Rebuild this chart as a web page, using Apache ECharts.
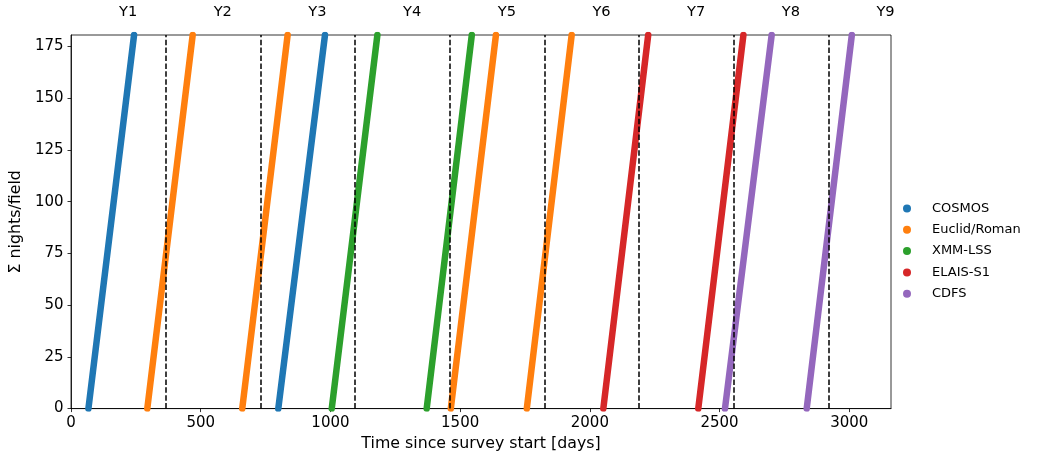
<!DOCTYPE html>
<html><head><meta charset="utf-8">
<script src="https://cdn.jsdelivr.net/npm/echarts@6/dist/echarts.min.js"></script>
<style>html,body{margin:0;padding:0;background:#fff}#c{width:1039px;height:457px}</style>
</head><body><div id="c"></div>
<script>
// Fields and colours
const fields = ['COSMOS', 'Euclid/Roman', 'XMM-LSS', 'ELAIS-S1', 'CDFS'];
const colors = ['#1f77b4', '#ff7f0e', '#2ca02c', '#d62728', '#9467bd'];
// Each observing season: day when cumulative count starts (0 nights) and day when it reaches the top (nightsTop)
const nightsTop = 180.5;
const cosmosStart = [67, 799];
const cosmosEnd   = [243, 979];
const euclidStart = [294, 660, 1464, 1757];
const euclidEnd   = [469, 835, 1638, 1930];
const xmmStart    = [1005, 1371];
const xmmEnd      = [1181, 1545];
const elaisStart  = [2052, 2418];
const elaisEnd    = [2225, 2592];
const cdfsStart   = [2521, 2836];
const cdfsEnd     = [2701, 3010];
// Year boundaries (days) and year labels
const yearBounds = [365, 730, 1095, 1460, 1825, 2190, 2555, 2920];
const yearLabels = ['Y1','Y2','Y3','Y4','Y5','Y6','Y7','Y8','Y9'];
const yearLabelX = [220, 585, 950, 1315, 1680, 2045, 2410, 2775, 3140];
// Ticks
const xTicks = [0, 500, 1000, 1500, 2000, 2500, 3000];
const yTicks = [0, 25, 50, 75, 100, 125, 150, 175];

const starts = [cosmosStart, euclidStart, xmmStart, elaisStart, cdfsStart];
const ends = [cosmosEnd, euclidEnd, xmmEnd, elaisEnd, cdfsEnd];
const font = 'DejaVu Sans';

const series = [];
fields.forEach((f, i) => {
  starts[i].forEach((s, j) => {
    series.push({
      name: f, type: 'line', symbol: 'none', silent: true, animation: false,
      color: colors[i], z: 2,
      lineStyle: {width: 6.5, color: colors[i], cap: 'round'},
      data: [[s, 0], [ends[i][j], nightsTop]]
    });
  });
});
series.push({
  name: 'bounds', type: 'line', data: [], z: 5, silent: true, animation: false,
  markLine: {
    silent: true, symbol: ['none', 'none'], animation: false,
    label: {show: false},
    lineStyle: {color: '#000', width: 1.5, type: [5.5, 2.4]},
    data: yearBounds.map(x => ({xAxis: x}))
  },
  markPoint: {
    silent: true, animation: false, symbolSize: 0,
    label: {show: true, position: 'inside', offset: [0, -22.5], color: '#000',
            fontFamily: font, fontSize: 14.6, formatter: p => p.name},
    data: yearLabelX.map((x, i) => ({name: yearLabels[i], coord: [x, nightsTop]}))
  }
});

const chart = echarts.init(document.getElementById('c'));
chart.setOption({
  animation: false,
  backgroundColor: '#fff',
  grid: {left: 71, right: 148, top: 35, bottom: 48, show: true, borderColor: '#000', borderWidth: 0.8},
  legend: {
    data: fields, orient: 'vertical', left: 898, top: 197,
    icon: 'circle', itemWidth: 40, itemHeight: 8, itemGap: 8.3,
    textStyle: {fontFamily: font, fontSize: 13, color: '#000'}
  },
  xAxis: {
    type: 'value', min: 0, max: 3161,
    name: 'Time since survey start [days]', nameLocation: 'middle', nameGap: 26,
    nameTextStyle: {fontFamily: font, fontSize: 15.8, color: '#000'},
    axisLine: {show: true, lineStyle: {color: '#000', width: 0.8}},
    axisTick: {show: true, length: 3.5, lineStyle: {color: '#000', width: 0.8}, customValues: xTicks},
    axisLabel: {fontFamily: font, fontSize: 15, color: '#000', margin: 7.5, customValues: xTicks,
                formatter: v => String(v)},
    splitLine: {show: false}
  },
  yAxis: {
    type: 'value', min: 0, max: nightsTop,
    name: 'Σ nights/field', nameLocation: 'middle', nameGap: 37, nameRotate: 90,
    nameTextStyle: {fontFamily: font, fontSize: 15.8, color: '#000'},
    axisLine: {show: true, lineStyle: {color: '#000', width: 0.8}},
    axisTick: {show: true, length: 3.5, lineStyle: {color: '#000', width: 0.8}, customValues: yTicks},
    axisLabel: {fontFamily: font, fontSize: 15, color: '#000', margin: 7.5, customValues: yTicks,
                formatter: v => String(v)},
    splitLine: {show: false}
  },
  series: series
});
</script></body></html>
